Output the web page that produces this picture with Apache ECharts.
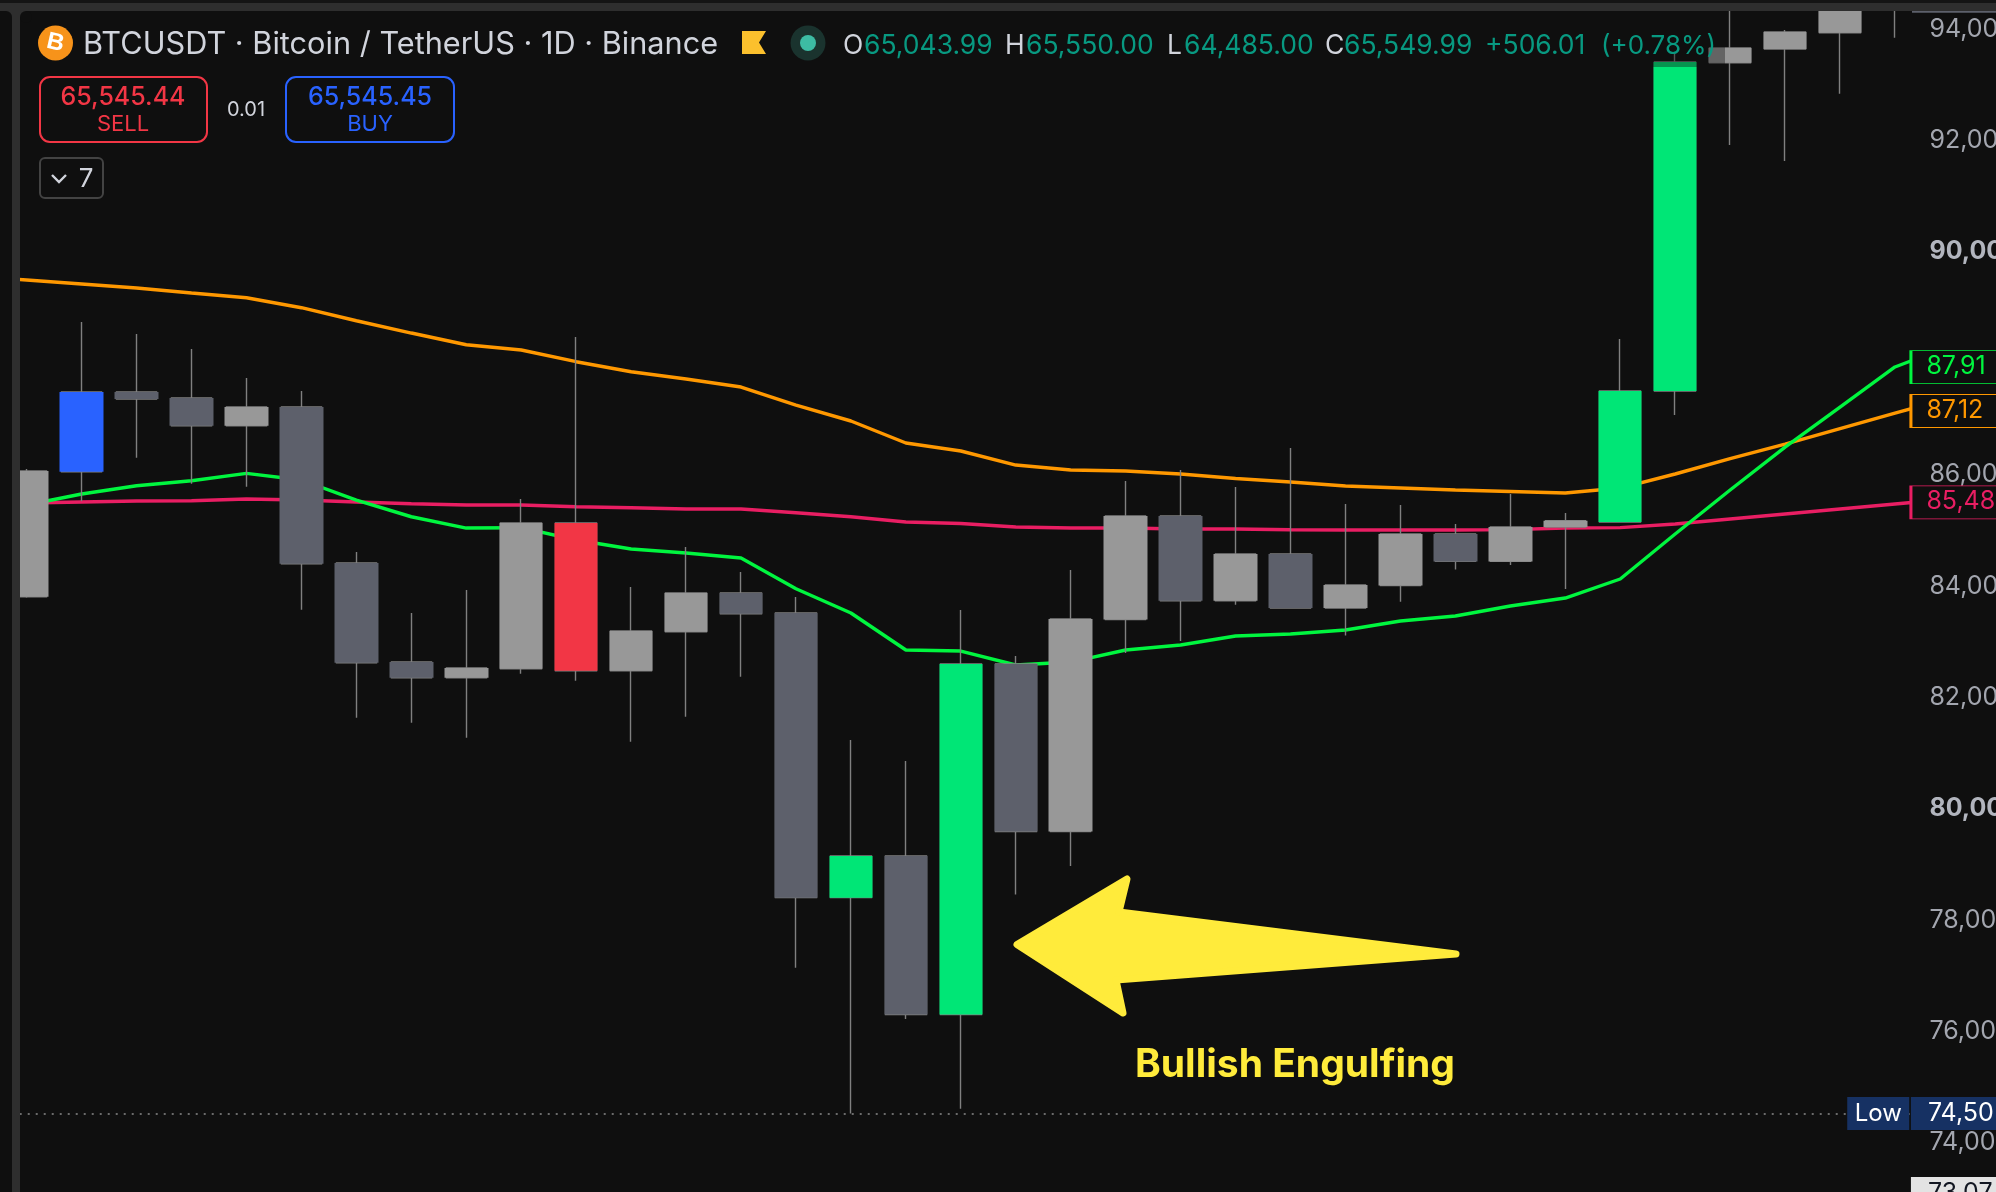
<!DOCTYPE html>
<html><head><meta charset="utf-8">
<style>html,body{margin:0;padding:0;background:#0f0f0f;overflow:hidden}#c{width:1996px;height:1192px}</style>
<script src="https://cdn.jsdelivr.net/npm/echarts@6/dist/echarts.min.js"></script>
</head><body><div id="c"></div>
<script>
const categories = ['0','1','2','3','4','5','6','7','8','9','10','11','12','13','14','15','16','17','18','19','20','21','22','23','24','25','26','27','28','29','30','31','32','33','34','35','36'];
const opens  = ['-',83790,86035,87467,87359,86861,87197,84395,82616,82334,82496,85113,82460,83161,83856,83497,78384,79132,76284,82581,79572,83380,85239,83718,84557,83588,83991,84916,84424,85041,85131,87484,93382,93628,93921,94500];
const closes = ['-',86047,87467,87341,86861,87197,84382,82604,82334,82509,85113,82460,83173,83856,83484,78384,79132,76284,82581,79572,83389,85239,83718,84557,83588,84000,84916,84424,85041,85156,87484,93394,93646,93933,94600,95300];
const lows   = ['-',83772,85503,86286,85819,85765,83556,81616,81526,81257,82406,82281,81185,81634,82354,77125,74508,76204,74592,78440,78952,82778,82994,83646,83574,83092,83701,84278,84359,83928,85131,87053,91903,91616,92825,93831];
const highs  = ['-',86083,88724,88508,88239,87718,87484,84592,83497,83910,85544,88454,83964,84682,84233,83784,81215,80838,83551,82724,84269,85868,86065,85760,86461,85455,85437,85095,85634,85293,88418,93556,95000,93969,95000,95600];
const kinds  = ['-','l','b','d','d','l','d','d','d','l','l','r','l','l','d','d','g','d','g','d','l','l','d','l','d','l','l','d','l','l','g','g','l','l','l','l'];
const emaGreen  = [85250,85437,85634,85783,85873,86006,85886,85526,85226,85023,85029,84808,84646,84574,84485,83933,83497,82832,82814,82563,82616,82832,82922,83083,83119,83191,83353,83443,83622,83766,84108,84916,85706,86478,87197,87916,88293];
const emaOrange = [89550,89478,89407,89335,89245,89160,88981,88747,88526,88316,88221,88011,87831,87700,87556,87233,86946,86550,86407,86155,86065,86047,85994,85913,85850,85778,85742,85706,85679,85652,85742,85994,86270,86532,86811,87089,87359];
const emaRed    = [85455,85473,85491,85509,85514,85544,85526,85491,85460,85437,85437,85406,85388,85365,85365,85297,85225,85131,85104,85041,85023,85023,85006,85006,84993,84988,84988,84988,84995,85023,85031,85095,85185,85275,85365,85455,85544];
const tagValues = {green:87915, orange:87125, red:85485, low:74508, last:73070};
const lastIndex = 36;

const palette = {l:'#989898', d:'#5d606b', b:'#2962ff', r:'#f23645', g:'#00e676'};
const BG = '#0f0f0f', STRIP = '#2e2e2e';
const FONT = 'Inter, Roboto, sans-serif';
const fmt = v => Math.round(v).toLocaleString('en-US');
const cut = v => fmt(v).slice(0,5);

const wickData = opens.map((o,i)=> o==='-' ? ['-','-','-','-'] : [o,closes[i],lows[i],highs[i]]);
const bodyData = opens.map((o,i)=>{
  if(o==='-') return {value:['-','-','-','-']};
  const c = palette[kinds[i]];
  return {value:[o,closes[i],Math.min(o,closes[i]),Math.max(o,closes[i])],
          itemStyle:{color:c,color0:c,borderColor:c,borderColor0:c,borderWidth:0}};
});

function tag(value,color){
  return {symbol:'rect',z:7,silent:true,animation:false,
    data:[{coord:[lastIndex,value],symbolSize:[120,33],symbolOffset:[21,0],
      itemStyle:{color:BG,borderColor:color,borderWidth:1.6},
      label:{show:true,formatter:cut(value),position:[17,4],color:color,fontFamily:FONT,fontSize:25}}]};
}
function lineSeries(name,data,color,t){
  return {name,type:'line',data,symbol:'none',lineStyle:{color,width:3.4},z:2,silent:true,markPoint:tag(t,color)};
}
function txt(x,y,text,fill,size,extra){
  return {type:'text',z:6,silent:true,x,y,style:Object.assign({text,fill,font:`${(extra&&extra.weight)||400} ${size}px ${FONT}`,textAlign:'left',textVerticalAlign:'middle'},extra&&extra.style)};
}
function rect(x,y,w,h,fill,z,r){
  return {type:'rect',z:z||3,silent:true,shape:{x,y,width:w,height:h,r:r||0},style:{fill}};
}
function box(x,y,w,h,stroke,r){
  return {type:'rect',z:6,silent:true,shape:{x,y,width:w,height:h,r},style:{fill:'none',stroke,lineWidth:2}};
}
const TITLE = '#d1d4dc', TEAL = '#089981';
const graphics = [
  rect(1910,11,86,1181,BG,3),
  rect(1912,11,84,1.8,'#5d606b',4),
  rect(20,11,1705,56,'rgba(15,15,15,0.38)',3),
  rect(0,3,20,1189,STRIP,3),
  rect(0,11,12,1181,BG,3,[0,6,0,0]),
  rect(0,0,1996,3,'#141414',3),
  rect(0,3,1996,8,STRIP,3),
  rect(20,11,6,6,STRIP,3),
  {type:'circle',z:3,silent:true,shape:{cx:26,cy:17,r:6},style:{fill:BG}},
  {type:'circle',z:6,silent:true,shape:{cx:55.5,cy:43,r:17.5},style:{fill:'#f7931a'}},
  {type:'text',z:7,silent:true,x:55.5,y:43,rotation:-0.22,style:{text:'B',fill:'#fff',font:'bold 24px "Liberation Sans"',textAlign:'center',textVerticalAlign:'middle'}},
  txt(83,45,'BTCUSDT · Bitcoin / TetherUS · 1D · Binance',TITLE,30.7),
  {type:'polygon',z:6,silent:true,shape:{points:[[742,31],[766,31],[759,42.5],[766,54],[742,54]]},style:{fill:'#fbc02d'}},
  {type:'ellipse',z:6,silent:true,shape:{cx:808,cy:43,rx:17.5,ry:17.5},style:{fill:'#1a332e'}},
  {type:'circle',z:7,silent:true,shape:{cx:808,cy:43,r:8},style:{fill:'#3dbba3'}},
  txt(843,46,'O',TITLE,26.5), txt(864,46,'65,043.99',TEAL,26.5),
  txt(1005,46,'H',TITLE,26.5), txt(1026,46,'65,550.00',TEAL,26.5),
  txt(1167,46,'L',TITLE,26.5), txt(1184,46,'64,485.00',TEAL,26.5),
  txt(1325,46,'C',TITLE,26.5), txt(1344,46,'65,549.99',TEAL,26.5),
  txt(1485,46,'+506.01',TEAL,26.5), txt(1601,46,'(+0.78%)',TEAL,26),
  box(40,77,167,65,'#f23645',10),
  box(286,77,168,65,'#2962ff',10),
  txt(123,97,'65,545.44','#f23645',25,{weight:500,style:{textAlign:'center'}}),
  txt(123,124,'SELL','#f23645',22,{style:{textAlign:'center'}}),
  txt(370,97,'65,545.45','#2962ff',25,{weight:500,style:{textAlign:'center'}}),
  txt(370,124,'BUY','#2962ff',22,{style:{textAlign:'center'}}),
  txt(246,110,'0.01',TITLE,20,{style:{textAlign:'center'}}),
  {type:'rect',z:6,silent:true,shape:{x:40,y:158,width:63,height:40,r:5},style:{fill:'none',stroke:'#434343',lineWidth:2}},
  {type:'polyline',z:6,silent:true,shape:{points:[[52,175],[59,182],[66,175]]},style:{fill:'none',stroke:TITLE,lineWidth:2.4}},
  txt(86,179,'7',TITLE,26,{style:{textAlign:'center'}}),
  {type:'polygon',z:4,silent:true,shape:{points:[[1017,944.5],[1127,879],[1119,912],[1456,954],[1116,980],[1123,1013]]},
    style:{fill:'#ffeb3b',stroke:'#ffeb3b',lineWidth:7,lineJoin:'round'}},
  txt(1295,1065,'Bullish Engulfing','#ffeb3b',39,{weight:700,style:{textAlign:'center'}})
];

const BAND = 54.95;
const option = {
  backgroundColor:BG, animation:false,
  grid:{left:-BAND-0.8,top:-83.04,width:BAND*categories.length,height:1336.08,containLabel:false,outerBoundsMode:'none'},
  xAxis:{type:'category',data:categories,show:false,boundaryGap:true},
  yAxis:{type:'value',position:'right',min:72000,max:96000,interval:2000,z:5,scale:true,
    axisLine:{show:false},axisTick:{show:false},splitLine:{show:false},
    axisLabel:{margin:-48,padding:[2,0,0,0],fontFamily:FONT,fontSize:25,color:'#a3a6af',align:'left',
      formatter:v=> v%10000===0 ? `{b|${fmt(v)}}` : fmt(v),
      rich:{b:{fontFamily:FONT,fontSize:25,fontWeight:700,color:'#b2b5be'}}}},
  series:[
    lineSeries('EMA red',emaRed,'#e91e63',tagValues.red),
    lineSeries('EMA orange',emaOrange,'#ff9800',tagValues.orange),
    lineSeries('EMA green',emaGreen,'#00f63f',tagValues.green),
    {name:'Wicks',type:'candlestick',data:wickData,barWidth:41,z:2,silent:true,
      itemStyle:{color:'#808080',color0:'#808080',borderColor:'#808080',borderColor0:'#808080',borderWidth:1.4},
      markLine:{silent:true,symbol:'none',z:2,animation:false,label:{show:false},
        lineStyle:{color:'#8a8a8a',type:[2,6],width:1.6},
        data:[[{coord:[0,tagValues.low]},{coord:[lastIndex,tagValues.low]}]]},
      markPoint:{symbol:'rect',z:7,silent:true,animation:false,data:[
        {coord:[lastIndex,tagValues.low],symbolSize:[62,33],symbolOffset:[-71.7,0],itemStyle:{color:'#163163'},
          label:{show:true,formatter:'Low',position:'inside',color:'#fff',fontFamily:FONT,fontSize:24}},
        {coord:[lastIndex,tagValues.low],symbolSize:[120,33],symbolOffset:[21,0],itemStyle:{color:'#163163'},
          label:{show:true,formatter:cut(tagValues.low),position:[17,4],color:'#fff',fontFamily:FONT,fontSize:25}},
        {coord:[lastIndex,tagValues.last],symbolSize:[120,33],symbolOffset:[21,0],itemStyle:{color:'#e3e3e3'},
          label:{show:true,formatter:cut(tagValues.last),position:[17,4],color:'#131722',fontFamily:FONT,fontSize:25}}
      ]}},
    {name:'Bodies',type:'candlestick',data:bodyData,barWidth:44,z:2,silent:true}
  ],
  graphic:{elements:graphics}
};
const chart = echarts.init(document.getElementById('c'),null,{renderer:'canvas',width:1996,height:1192});
chart.setOption(option);
</script></body></html>
